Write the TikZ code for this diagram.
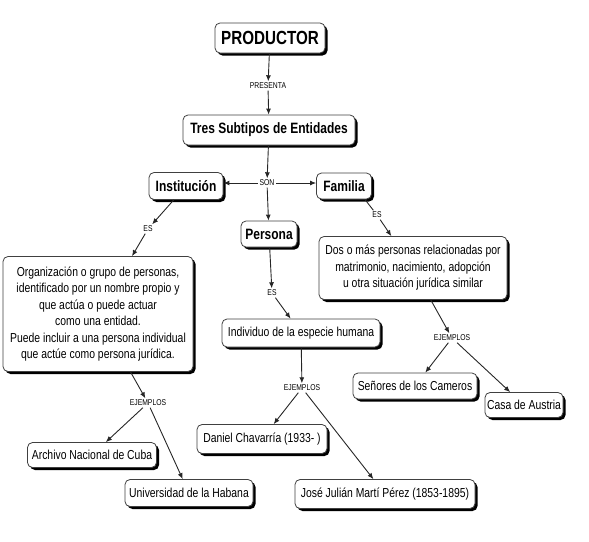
\documentclass[tikz,border=0pt]{standalone}
\usepackage{fontspec}
\setmainfont{Liberation Sans}[FakeStretch=0.8]
\usetikzlibrary{arrows.meta,shadows,calc}
\tikzset{
  box/.style={draw=black!75, line width=0.8pt, rounded corners=5pt, fill=white,
    inner sep=2pt, align=center,
    drop shadow={shadow xshift=2.5pt, shadow yshift=-2.5pt, fill=black, opacity=1}},
  big/.style={box, font=\fontsize{19}{22}\selectfont\bfseries},
  mid/.style={box, font=\fontsize{15}{18}\selectfont\bfseries},
  txt/.style={box, font=\fontsize{13}{16.5}\selectfont},
  lbl/.style={fill=white, inner sep=1.5pt, font=\fontsize{8.5}{10}\selectfont},
  arr/.style={line width=0.9pt, draw=black!85, -{Latex[length=6pt,width=5pt]}},
  ln/.style={line width=0.9pt, draw=black!85}
}
\begin{document}
\begin{tikzpicture}[x=1pt,y=-1pt]
\useasboundingbox (0,0) rectangle (589,541);
% concept nodes
\node[big, minimum width=110pt, minimum height=30pt] (prod) at (270,38) {PRODUCTOR};
\node[mid, minimum width=172pt, minimum height=30pt] (tres) at (269,130) {Tres Subtipos de Entidades};
\node[mid, minimum width=74pt, minimum height=27pt] (inst) at (186,186) {Institución};
\node[mid, minimum width=55pt, minimum height=26pt] (fam) at (344,186) {Familia};
\node[mid, minimum width=56pt, minimum height=26pt] (pers) at (269,234) {Persona};
\node[txt, minimum width=190pt, minimum height=115pt] (org) at (98,314)
  {Organización o grupo de personas,\\identificado por un nombre propio y\\que actúa o puede actuar\\como una entidad.\\Puede incluir a una persona individual\\que actúe como persona jurídica.};
\node[txt, minimum width=158pt, minimum height=28pt] (indiv) at (301,333) {Individuo de la especie humana};
\node[txt, minimum width=188pt, minimum height=63pt] (dos) at (413,268)
  {Dos o más personas relacionadas por\\matrimonio, nacimiento, adopción\\u otra situación jurídica similar};
\node[txt, minimum width=130pt, minimum height=29pt] (dan) at (262,439) {Daniel Chavarría (1933- )};
\node[txt, minimum width=180pt, minimum height=29pt] (jose) at (385,494) {José Julián Martí Pérez (1853-1895)};
\node[txt, minimum width=124pt, minimum height=26pt] (sen) at (415,386) {Señores de los Cameros};
\node[txt, minimum width=78pt, minimum height=25pt] (casa) at (524,405) {Casa de Austria};
\node[txt, minimum width=129pt, minimum height=25pt] (arch) at (92,455) {Archivo Nacional de Cuba};
\node[txt, minimum width=128pt, minimum height=27pt] (univ) at (189,493) {Universidad de la Habana};
% linking phrases
\node[lbl] (presenta) at (268,86) {PRESENTA};
\node[lbl] (son) at (267,183) {SON};
\node[lbl] (esI) at (148,229) {ES};
\node[lbl] (esP) at (272,293) {ES};
\node[lbl] (esF) at (377,215) {ES};
\node[lbl] (ejO) at (148,403) {EJEMPLOS};
\node[lbl] (ejI) at (302,388) {EJEMPLOS};
\node[lbl] (ejD) at (452,338) {EJEMPLOS};
% connectors
\draw[arr] (prod) -- (presenta);
\draw[arr] (presenta) -- (tres);
\draw[arr] (tres) -- (son);
\draw[arr] (son) -- (inst.east |- son);
\draw[arr] (son) -- (fam.west |- son);
\draw[arr] (son) -- (pers);
\draw[arr] (inst) -- (esI);
\draw[arr] (esI) -- (org);
\draw[arr] (pers) -- (esP);
\draw[arr] (esP) -- (indiv);
\coordinate (famout) at ($(fam.south)!0.75!(fam.south east)$);
\draw[ln] (famout) -- (esF);
\draw[arr] (esF) -- (dos);
\draw[arr] (org) -- (ejO);
\draw[arr] (ejO) -- (arch);
\draw[arr] (ejO) -- (univ);
\draw[arr] (indiv) -- (ejI);
\draw[arr] (ejI) -- (dan);
\draw[arr] (ejI) -- (jose);
\draw[arr] (dos) -- (ejD);
\draw[arr] (ejD) -- (sen);
\draw[arr] (ejD) -- (casa);
\end{tikzpicture}
\end{document}
